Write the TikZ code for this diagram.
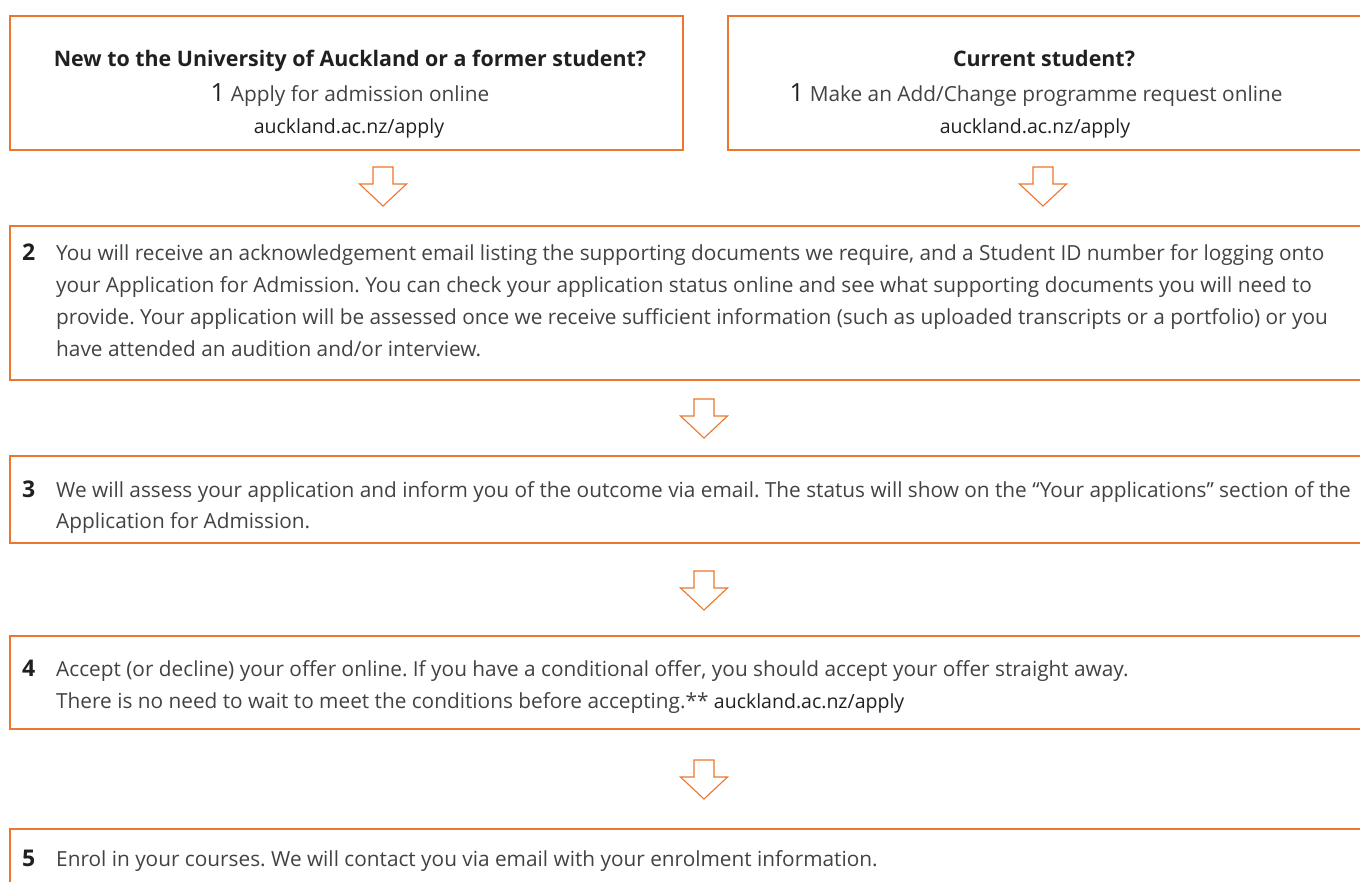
\documentclass[tikz,border=0pt]{standalone}
\usepackage{fontspec}
\setmainfont{Open Sans}
\frenchspacing
\definecolor{uoaorange}{RGB}{236,118,44}
\definecolor{bodygray}{RGB}{66,66,66}
\definecolor{darkink}{RGB}{34,31,32}
\tikzset{
  stepbox/.style={draw=uoaorange, line width=1.1pt},
  blockarrow/.style={draw=uoaorange, line width=1.1pt, fill=white, line join=miter},
  bodytext/.style={inner sep=0pt, anchor=base west, text=bodygray, font=\fontsize{20.8}{25}\selectfont},
  ctrtext/.style={inner sep=0pt, anchor=base, text=bodygray, font=\fontsize{20.8}{25}\selectfont},
  numtext/.style={inner sep=0pt, anchor=base west, text=darkink, font=\bfseries\fontsize{23}{28}\selectfont},
  titletext/.style={inner sep=0pt, anchor=base, text=darkink, font=\bfseries\fontsize{21.4}{26}\selectfont},
  urltext/.style={inner sep=0pt, text=darkink, font=\fontsize{19.5}{24}\selectfont}
}
\newcommand{\downarrowat}[1]{%
  \draw[blockarrow] (#1) ++(-10,0) -- ++(20,0) -- ++(0,17) -- ++(13.5,0)
     -- ++(-23.5,22) -- ++(-23.5,-22) -- ++(13.5,0) -- cycle;}
\newcommand{\bignum}[1]{{\color{darkink}\fontsize{25}{30}\selectfont #1}}
\begin{document}
\begin{tikzpicture}[x=1pt,y=-1pt]
\useasboundingbox (0,0) rectangle (1360,882);
% boxes
\draw[stepbox] (10,16) coordinate (b1aNW) rectangle (683,150) coordinate (b1aSE);
\draw[stepbox] (728,16) coordinate (b1bNW) rectangle (1372,150) coordinate (b1bSE);
\draw[stepbox] (10,226) coordinate (b2NW) rectangle (1372,380) coordinate (b2SE);
\draw[stepbox] (10,456) coordinate (b3NW) rectangle (1372,543) coordinate (b3SE);
\draw[stepbox] (10,636) coordinate (b4NW) rectangle (1372,729) coordinate (b4SE);
\draw[stepbox] (10,829) coordinate (b5NW) rectangle (1372,905) coordinate (b5SE);

% box 1a
\node[titletext] (t1a) at (350,67) {New to the University of Auckland or a former student?};
\node[ctrtext] (l1a) at (350,102) {\bignum{1}\hspace{6pt}Apply for admission online};
\node[urltext, anchor=base] (u1a) at (349,134) {auckland.ac.nz/apply};

% box 1b
\node[titletext] (t1b) at (1044,67) {Current student?};
\node[ctrtext] (l1b) at (1036,102) {\bignum{1}\hspace{6pt}Make an Add/Change programme request online};
\node[urltext, anchor=base] (u1b) at (1035,134) {auckland.ac.nz/apply};

% box 2
\node[numtext] (n2) at (22,261) {2};
\node[bodytext] (l2a) at (56,261) {You will receive an acknowledgement email listing the supporting documents we require, and a Student ID number for logging onto};
\node[bodytext] (l2b) at (56,293) {your Application for Admission. You can check your application status online and see what supporting documents you will need to};
\node[bodytext] (l2c) at (56,325) {provide. Your application will be assessed once we receive sufficient information (such as uploaded transcripts or a portfolio) or you};
\node[bodytext] (l2d) at (56,357) {have attended an audition and/or interview.};

% box 3
\node[numtext] (n3) at (22,497) {3};
\node[bodytext] (l3a) at (56,497) {We will assess your application and inform you of the outcome via email. The status will show on the “Your applications” section of the};
\node[bodytext] (l3b) at (56,528) {Application for Admission.};

% box 4
\node[numtext] (n4) at (22,676) {4};
\node[bodytext] (l4a) at (56,676) {Accept (or decline) your offer online. If you have a conditional offer, you should accept your offer straight away.};
\node[bodytext] (l4b) at (56,708) {There is no need to wait to meet the conditions before accepting.** {\color{darkink}\fontsize{19.5}{24}\selectfont auckland.ac.nz/apply}};

% box 5
\node[numtext] (n5) at (22,866) {5};
\node[bodytext] (l5a) at (56,866) {Enrol in your courses. We will contact you via email with your enrolment information.};

% arrows
\coordinate (a1a) at (383,167);
\coordinate (a1b) at (1043,167);
\coordinate (a2) at (704,399);
\coordinate (a3) at (704,571);
\coordinate (a4) at (704,760);
\downarrowat{a1a}
\downarrowat{a1b}
\downarrowat{a2}
\downarrowat{a3}
\downarrowat{a4}
\end{tikzpicture}
\end{document}
